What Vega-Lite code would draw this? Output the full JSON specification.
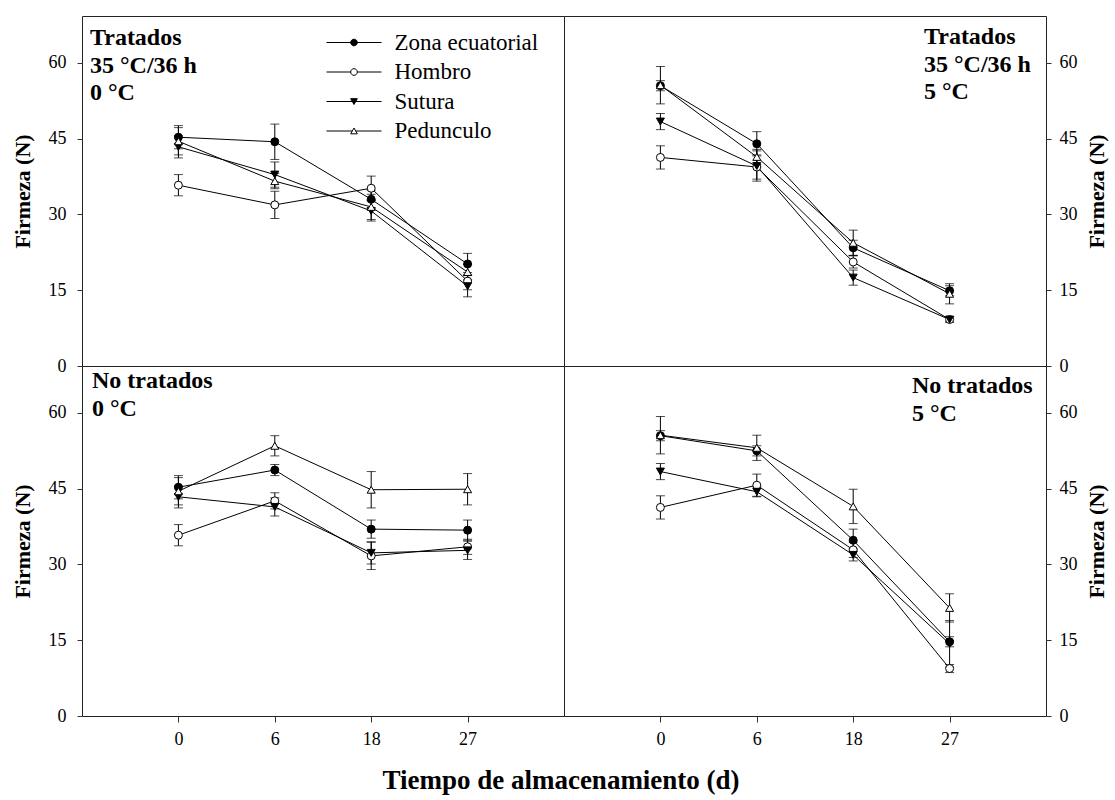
{
  "$schema": "https://vega.github.io/schema/vega-lite/v6.json",
  "background": "white",
  "autosize": {"type": "pad"},
  "padding": {"left": 10, "top": 15, "right": 1, "bottom": 2},
  "config": {
    "font": "Liberation Serif",
    "view": {"stroke": "#222", "strokeWidth": 1},
    "axis": {
      "grid": false,
      "domain": false,
      "labelFont": "Liberation Serif",
      "labelFontSize": 18,
      "labelColor": "black",
      "titleFont": "Liberation Serif",
      "titleFontSize": 22,
      "titleFontWeight": "bold",
      "titleColor": "black",
      "tickColor": "#333",
      "tickSize": 5
    }
  },
  "datasets": {
    "firmeza": [
      {"panel": "TL", "dia": 0, "serie": "Zona ecuatorial", "firmeza": 45.3, "de": 2.3},
      {"panel": "TL", "dia": 6, "serie": "Zona ecuatorial", "firmeza": 44.4, "de": 3.5},
      {"panel": "TL", "dia": 18, "serie": "Zona ecuatorial", "firmeza": 33.0, "de": 1.8},
      {"panel": "TL", "dia": 27, "serie": "Zona ecuatorial", "firmeza": 20.2, "de": 2.1},
      {"panel": "TL", "dia": 0, "serie": "Hombro", "firmeza": 35.8, "de": 2.1},
      {"panel": "TL", "dia": 6, "serie": "Hombro", "firmeza": 31.9, "de": 2.7},
      {"panel": "TL", "dia": 18, "serie": "Hombro", "firmeza": 35.2, "de": 2.4},
      {"panel": "TL", "dia": 27, "serie": "Hombro", "firmeza": 16.8, "de": 1.7},
      {"panel": "TL", "dia": 0, "serie": "Sutura", "firmeza": 43.4, "de": 2.2},
      {"panel": "TL", "dia": 6, "serie": "Sutura", "firmeza": 37.9, "de": 2.5},
      {"panel": "TL", "dia": 18, "serie": "Sutura", "firmeza": 30.7, "de": 2.0},
      {"panel": "TL", "dia": 27, "serie": "Sutura", "firmeza": 15.8, "de": 2.1},
      {"panel": "TL", "dia": 0, "serie": "Pedunculo", "firmeza": 44.5, "de": 2.7},
      {"panel": "TL", "dia": 6, "serie": "Pedunculo", "firmeza": 36.6, "de": 1.5},
      {"panel": "TL", "dia": 18, "serie": "Pedunculo", "firmeza": 31.5, "de": 2.5},
      {"panel": "TL", "dia": 27, "serie": "Pedunculo", "firmeza": 18.6, "de": 1.5},

      {"panel": "TR", "dia": 0, "serie": "Zona ecuatorial", "firmeza": 55.5, "de": 1.0},
      {"panel": "TR", "dia": 6, "serie": "Zona ecuatorial", "firmeza": 44.0, "de": 2.4},
      {"panel": "TR", "dia": 18, "serie": "Zona ecuatorial", "firmeza": 23.4, "de": 1.5},
      {"panel": "TR", "dia": 27, "serie": "Zona ecuatorial", "firmeza": 14.9, "de": 1.0},
      {"panel": "TR", "dia": 0, "serie": "Hombro", "firmeza": 41.3, "de": 2.3},
      {"panel": "TR", "dia": 6, "serie": "Hombro", "firmeza": 39.4, "de": 2.4},
      {"panel": "TR", "dia": 18, "serie": "Hombro", "firmeza": 20.6, "de": 1.2},
      {"panel": "TR", "dia": 27, "serie": "Hombro", "firmeza": 9.2, "de": 0.5},
      {"panel": "TR", "dia": 0, "serie": "Sutura", "firmeza": 48.4, "de": 1.6},
      {"panel": "TR", "dia": 6, "serie": "Sutura", "firmeza": 39.6, "de": 3.0},
      {"panel": "TR", "dia": 18, "serie": "Sutura", "firmeza": 17.5, "de": 1.5},
      {"panel": "TR", "dia": 27, "serie": "Sutura", "firmeza": 9.2, "de": 0.5},
      {"panel": "TR", "dia": 0, "serie": "Pedunculo", "firmeza": 55.6, "de": 3.7},
      {"panel": "TR", "dia": 6, "serie": "Pedunculo", "firmeza": 41.4, "de": 1.5},
      {"panel": "TR", "dia": 18, "serie": "Pedunculo", "firmeza": 24.4, "de": 2.5},
      {"panel": "TR", "dia": 27, "serie": "Pedunculo", "firmeza": 14.3, "de": 2.0},

      {"panel": "BL", "dia": 0, "serie": "Zona ecuatorial", "firmeza": 45.3, "de": 2.3},
      {"panel": "BL", "dia": 6, "serie": "Zona ecuatorial", "firmeza": 48.7, "de": 1.1},
      {"panel": "BL", "dia": 18, "serie": "Zona ecuatorial", "firmeza": 37.0, "de": 1.8},
      {"panel": "BL", "dia": 27, "serie": "Zona ecuatorial", "firmeza": 36.8, "de": 2.0},
      {"panel": "BL", "dia": 0, "serie": "Hombro", "firmeza": 35.8, "de": 2.1},
      {"panel": "BL", "dia": 6, "serie": "Hombro", "firmeza": 42.6, "de": 1.6},
      {"panel": "BL", "dia": 18, "serie": "Hombro", "firmeza": 31.7, "de": 2.7},
      {"panel": "BL", "dia": 27, "serie": "Hombro", "firmeza": 33.5, "de": 1.5},
      {"panel": "BL", "dia": 0, "serie": "Sutura", "firmeza": 43.4, "de": 2.2},
      {"panel": "BL", "dia": 6, "serie": "Sutura", "firmeza": 41.4, "de": 1.8},
      {"panel": "BL", "dia": 18, "serie": "Sutura", "firmeza": 32.3, "de": 2.2},
      {"panel": "BL", "dia": 27, "serie": "Sutura", "firmeza": 32.8, "de": 1.8},
      {"panel": "BL", "dia": 0, "serie": "Pedunculo", "firmeza": 44.5, "de": 2.7},
      {"panel": "BL", "dia": 6, "serie": "Pedunculo", "firmeza": 53.5, "de": 2.0},
      {"panel": "BL", "dia": 18, "serie": "Pedunculo", "firmeza": 44.8, "de": 3.6},
      {"panel": "BL", "dia": 27, "serie": "Pedunculo", "firmeza": 44.9, "de": 3.1},

      {"panel": "BR", "dia": 0, "serie": "Zona ecuatorial", "firmeza": 55.5, "de": 1.0},
      {"panel": "BR", "dia": 6, "serie": "Zona ecuatorial", "firmeza": 52.5, "de": 1.0},
      {"panel": "BR", "dia": 18, "serie": "Zona ecuatorial", "firmeza": 34.8, "de": 2.2},
      {"panel": "BR", "dia": 27, "serie": "Zona ecuatorial", "firmeza": 14.7, "de": 1.0},
      {"panel": "BR", "dia": 0, "serie": "Hombro", "firmeza": 41.3, "de": 2.3},
      {"panel": "BR", "dia": 6, "serie": "Hombro", "firmeza": 45.7, "de": 2.2},
      {"panel": "BR", "dia": 18, "serie": "Hombro", "firmeza": 32.9, "de": 1.5},
      {"panel": "BR", "dia": 27, "serie": "Hombro", "firmeza": 9.4, "de": 0.8},
      {"panel": "BR", "dia": 0, "serie": "Sutura", "firmeza": 48.4, "de": 1.6},
      {"panel": "BR", "dia": 6, "serie": "Sutura", "firmeza": 44.4, "de": 1.0},
      {"panel": "BR", "dia": 18, "serie": "Sutura", "firmeza": 31.9, "de": 1.2},
      {"panel": "BR", "dia": 27, "serie": "Sutura", "firmeza": 14.3, "de": 4.6},
      {"panel": "BR", "dia": 0, "serie": "Pedunculo", "firmeza": 55.6, "de": 3.7},
      {"panel": "BR", "dia": 6, "serie": "Pedunculo", "firmeza": 53.1, "de": 2.5},
      {"panel": "BR", "dia": 18, "serie": "Pedunculo", "firmeza": 41.5, "de": 3.4},
      {"panel": "BR", "dia": 27, "serie": "Pedunculo", "firmeza": 21.4, "de": 2.8}
    ]
  },
  "title": {
    "text": "Tiempo de almacenamiento (d)",
    "orient": "bottom",
    "anchor": "middle",
    "offset": 19,
    "dx": 2,
    "font": "Liberation Serif",
    "fontSize": 27,
    "fontWeight": "bold",
    "color": "black"
  },
  "columns": 2,
  "spacing": 0,
  "bounds": "flush",
  "resolve": {
    "scale": {"shape": "independent", "fill": "independent", "stroke": "independent"},
    "legend": {"shape": "independent", "fill": "independent", "stroke": "independent"}
  },
  "concat": [
    {
      "data": {"name": "firmeza"},
      "transform": [{"filter": "datum.panel == 'TL'"}],
      "width": 482,
      "height": 350,
      "title": {
        "text": ["Tratados", "35 °C/36 h", "0 °C"],
        "anchor": "start", "frame": "group", "align": "left", "baseline": "top",
        "offset": -89, "dx": 8, "lineHeight": 27.5,
        "font": "Liberation Serif", "fontSize": 24, "fontWeight": "bold", "color": "black"
      },
      "encoding": {
        "x": {"field": "dia", "type": "ordinal", "scale": {"type": "point", "padding": 1}, "axis": null},
        "y": {"field": "firmeza", "type": "quantitative", "scale": {"domain": [0, 69.3], "nice": false},
              "axis": {"orient": "left", "values": [0, 15, 30, 45, 60], "title": "Firmeza (N)", "labelPadding": 11, "titlePadding": 14}}
      },
      "resolve": {
        "scale": {"shape": "independent", "fill": "independent", "stroke": "independent"},
        "legend": {"shape": "independent", "fill": "independent", "stroke": "independent"}
      },
      "layer": [
        {"mark": {"type": "line", "color": "black", "strokeWidth": 1}, "encoding": {"detail": {"field": "serie"}}},
        {"mark": {"type": "errorbar", "color": "black", "ticks": {"size": 9}}, "encoding": {"yError": {"field": "de"}}},
        {
          "mark": {"type": "point", "filled": true, "size": 64, "stroke": "black", "strokeWidth": 1, "opacity": 1},
          "encoding": {
            "shape": {"field": "serie", "type": "nominal", "scale": {"domain": ["Zona ecuatorial", "Hombro", "Sutura", "Pedunculo"], "range": ["circle", "circle", "triangle-down", "triangle-up"]}, "legend": null},
            "fill": {"field": "serie", "type": "nominal", "scale": {"domain": ["Zona ecuatorial", "Hombro", "Sutura", "Pedunculo"], "range": ["black", "white", "black", "white"]}, "legend": null}
          }
        },
        {
          "transform": [{"filter": "false"}],
          "mark": {"type": "point", "filled": true, "size": 44, "strokeWidth": 1, "opacity": 1},
          "encoding": {
            "shape": {
              "field": "serie", "type": "nominal",
              "scale": {
                "domain": ["Zona ecuatorial", "Hombro", "Sutura", "Pedunculo"],
                "range": [
                  "M-8.3,0L8.3,0M1,0A1,1,0,1,1,-1,0A1,1,0,1,1,1,0Z",
                  "M-8.3,0L-1,0M1,0L8.3,0M1,0A1,1,0,1,1,-1,0A1,1,0,1,1,1,0Z",
                  "M-8.3,0L8.3,0M-1,-0.85L1,-0.85L0,0.9Z",
                  "M-8.3,0L-0.51,0M0.51,0L8.3,0M-1,0.85L1,0.85L0,-0.9Z"
                ]
              },
              "legend": {
                "orient": "none", "legendX": 243, "legendY": 15, "title": null,
                "labelFont": "Liberation Serif", "labelFontSize": 23, "labelColor": "black",
                "symbolSize": 44, "symbolOffset": 17.5, "labelOffset": 29, "rowPadding": 5.5,
                "symbolStrokeWidth": 1, "symbolOpacity": 1
              }
            },
            "fill": {
              "field": "serie", "type": "nominal",
              "scale": {"domain": ["Zona ecuatorial", "Hombro", "Sutura", "Pedunculo"], "range": ["black", "white", "black", "white"]},
              "legend": {
                "orient": "none", "legendX": 243, "legendY": 15, "title": null,
                "labelFont": "Liberation Serif", "labelFontSize": 23, "labelColor": "black",
                "symbolSize": 44, "symbolOffset": 17.5, "labelOffset": 29, "rowPadding": 5.5,
                "symbolStrokeWidth": 1, "symbolOpacity": 1
              }
            },
            "stroke": {
              "field": "serie", "type": "nominal",
              "scale": {"domain": ["Zona ecuatorial", "Hombro", "Sutura", "Pedunculo"], "range": ["black", "black", "black", "black"]},
              "legend": {
                "orient": "none", "legendX": 243, "legendY": 15, "title": null,
                "labelFont": "Liberation Serif", "labelFontSize": 23, "labelColor": "black",
                "symbolSize": 44, "symbolOffset": 17.5, "labelOffset": 29, "rowPadding": 5.5,
                "symbolStrokeWidth": 1, "symbolOpacity": 1
              }
            }
          }
        }
      ]
    },
    {
      "data": {"name": "firmeza"},
      "transform": [{"filter": "datum.panel == 'TR'"}],
      "width": 482,
      "height": 350,
      "title": {
        "text": ["Tratados", "35 °C/36 h", "5 °C"],
        "anchor": "start", "frame": "group", "align": "left", "baseline": "top",
        "offset": -88, "dx": 360, "lineHeight": 27.5,
        "font": "Liberation Serif", "fontSize": 24, "fontWeight": "bold", "color": "black"
      },
      "encoding": {
        "x": {"field": "dia", "type": "ordinal", "scale": {"type": "point", "padding": 1}, "axis": null},
        "y": {"field": "firmeza", "type": "quantitative", "scale": {"domain": [0, 69.3], "nice": false},
              "axis": {"orient": "right", "values": [0, 15, 30, 45, 60], "title": "Firmeza (N)", "titleAngle": 270, "labelPadding": 8, "titlePadding": 31}}
      },
      "layer": [
        {"mark": {"type": "line", "color": "black", "strokeWidth": 1}, "encoding": {"detail": {"field": "serie"}}},
        {"mark": {"type": "errorbar", "color": "black", "ticks": {"size": 9}}, "encoding": {"yError": {"field": "de"}}},
        {
          "mark": {"type": "point", "filled": true, "size": 64, "stroke": "black", "strokeWidth": 1, "opacity": 1},
          "encoding": {
            "shape": {"field": "serie", "type": "nominal", "scale": {"domain": ["Zona ecuatorial", "Hombro", "Sutura", "Pedunculo"], "range": ["circle", "circle", "triangle-down", "triangle-up"]}, "legend": null},
            "fill": {"field": "serie", "type": "nominal", "scale": {"domain": ["Zona ecuatorial", "Hombro", "Sutura", "Pedunculo"], "range": ["black", "white", "black", "white"]}, "legend": null}
          }
        }
      ]
    },
    {
      "data": {"name": "firmeza"},
      "transform": [{"filter": "datum.panel == 'BL'"}],
      "width": 482,
      "height": 350,
      "title": {
        "text": ["No tratados", "0 °C"],
        "anchor": "start", "frame": "group", "align": "left", "baseline": "top",
        "offset": -55, "dx": 10, "lineHeight": 28,
        "font": "Liberation Serif", "fontSize": 24, "fontWeight": "bold", "color": "black"
      },
      "encoding": {
        "x": {"field": "dia", "type": "ordinal", "scale": {"type": "point", "padding": 1},
              "axis": {"title": null, "labelAngle": 0, "tickSize": 6, "labelPadding": 8}},
        "y": {"field": "firmeza", "type": "quantitative", "scale": {"domain": [0, 69.3], "nice": false},
              "axis": {"orient": "left", "values": [0, 15, 30, 45, 60], "title": "Firmeza (N)", "labelPadding": 11, "titlePadding": 14}}
      },
      "layer": [
        {"mark": {"type": "line", "color": "black", "strokeWidth": 1}, "encoding": {"detail": {"field": "serie"}}},
        {"mark": {"type": "errorbar", "color": "black", "ticks": {"size": 9}}, "encoding": {"yError": {"field": "de"}}},
        {
          "mark": {"type": "point", "filled": true, "size": 64, "stroke": "black", "strokeWidth": 1, "opacity": 1},
          "encoding": {
            "shape": {"field": "serie", "type": "nominal", "scale": {"domain": ["Zona ecuatorial", "Hombro", "Sutura", "Pedunculo"], "range": ["circle", "circle", "triangle-down", "triangle-up"]}, "legend": null},
            "fill": {"field": "serie", "type": "nominal", "scale": {"domain": ["Zona ecuatorial", "Hombro", "Sutura", "Pedunculo"], "range": ["black", "white", "black", "white"]}, "legend": null}
          }
        }
      ]
    },
    {
      "data": {"name": "firmeza"},
      "transform": [{"filter": "datum.panel == 'BR'"}],
      "width": 482,
      "height": 350,
      "title": {
        "text": ["No tratados", "5 °C"],
        "anchor": "start", "frame": "group", "align": "left", "baseline": "top",
        "offset": -60, "dx": 348, "lineHeight": 28,
        "font": "Liberation Serif", "fontSize": 24, "fontWeight": "bold", "color": "black"
      },
      "encoding": {
        "x": {"field": "dia", "type": "ordinal", "scale": {"type": "point", "padding": 1},
              "axis": {"title": null, "labelAngle": 0, "tickSize": 6, "labelPadding": 8}},
        "y": {"field": "firmeza", "type": "quantitative", "scale": {"domain": [0, 69.3], "nice": false},
              "axis": {"orient": "right", "values": [0, 15, 30, 45, 60], "title": "Firmeza (N)", "titleAngle": 270, "labelPadding": 8, "titlePadding": 31}}
      },
      "layer": [
        {"mark": {"type": "line", "color": "black", "strokeWidth": 1}, "encoding": {"detail": {"field": "serie"}}},
        {"mark": {"type": "errorbar", "color": "black", "ticks": {"size": 9}}, "encoding": {"yError": {"field": "de"}}},
        {
          "mark": {"type": "point", "filled": true, "size": 64, "stroke": "black", "strokeWidth": 1, "opacity": 1},
          "encoding": {
            "shape": {"field": "serie", "type": "nominal", "scale": {"domain": ["Zona ecuatorial", "Hombro", "Sutura", "Pedunculo"], "range": ["circle", "circle", "triangle-down", "triangle-up"]}, "legend": null},
            "fill": {"field": "serie", "type": "nominal", "scale": {"domain": ["Zona ecuatorial", "Hombro", "Sutura", "Pedunculo"], "range": ["black", "white", "black", "white"]}, "legend": null}
          }
        }
      ]
    }
  ]
}
